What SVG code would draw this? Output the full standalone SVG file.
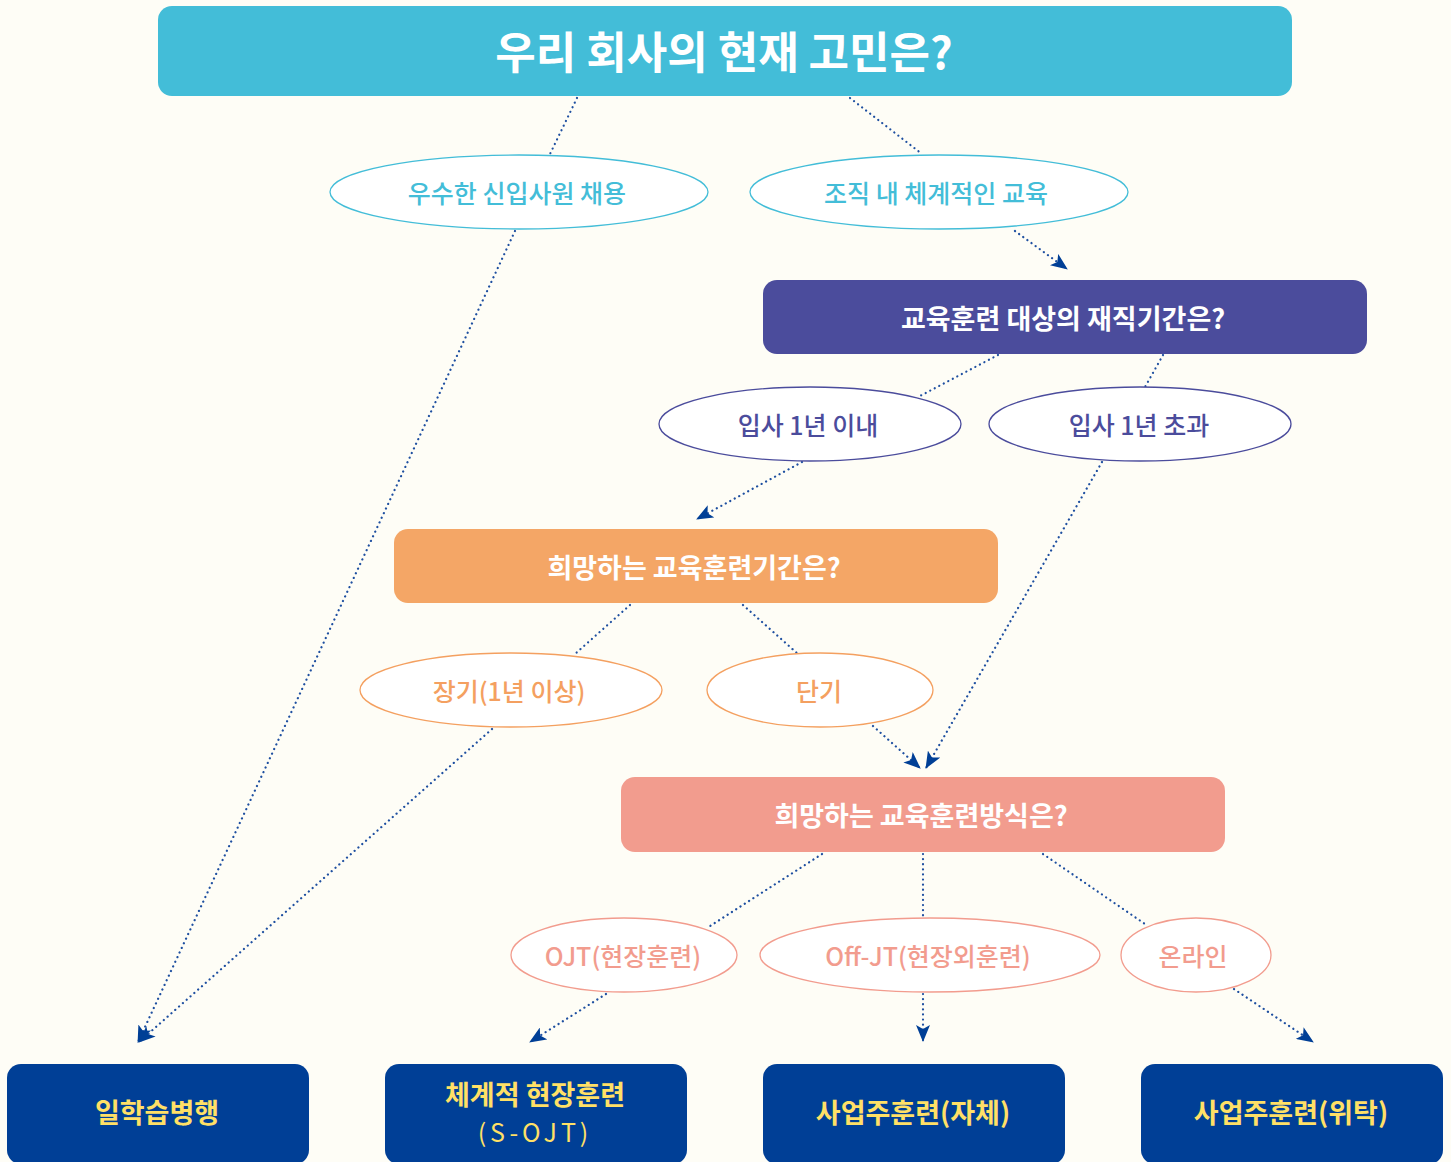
<svg xmlns="http://www.w3.org/2000/svg" width="1451" height="1162" viewBox="0 0 1451 1162">
<style>
.t{font-family:"Noto Sans CJK KR","Noto Sans",sans-serif;text-anchor:middle;dominant-baseline:central}
.bt{font-weight:700;fill:#fff}
.yt{font-weight:700;fill:#FFE066;font-size:27px}
.et{font-weight:500;font-size:25px}
.el{fill:#fff;stroke-width:1.3}
.c{fill:none;stroke:#1E4FA0;stroke-width:2.2;stroke-linecap:round;stroke-dasharray:0.1 5}
.ca{marker-end:url(#ah)}
</style>
<defs>
<marker id="ah" markerUnits="userSpaceOnUse" markerWidth="18" markerHeight="14" refX="16" refY="7" orient="auto" viewBox="0 0 18 14">
<path d="M0,0 L17,7 L0,14 L4,7 Z" fill="#003F96"/>
</marker>
</defs>
<rect width="1451" height="1162" fill="#FEFDF6"/>
<g id="connectors">
<line class="c" x1="577" y1="98" x2="550" y2="154"/>
<line class="c" x1="850" y1="98" x2="922" y2="154"/>
<line class="c ca" x1="515" y1="231" x2="138" y2="1042"/>
<line class="c ca" x1="1015" y1="231" x2="1067" y2="269"/>
<line class="c" x1="998" y1="355" x2="918" y2="397"/>
<line class="c" x1="1163" y1="355" x2="1145" y2="387"/>
<line class="c ca" x1="802" y1="462" x2="697" y2="519"/>
<line class="c ca" x1="1102" y1="462" x2="926" y2="768"/>
<line class="c" x1="630" y1="605" x2="575" y2="654"/>
<line class="c" x1="743" y1="605" x2="798" y2="654"/>
<line class="c ca" x1="492" y1="729" x2="139" y2="1042"/>
<line class="c ca" x1="873" y1="726" x2="920" y2="768"/>
<line class="c" x1="822" y1="854" x2="707" y2="928"/>
<line class="c" x1="923" y1="854" x2="923" y2="917"/>
<line class="c" x1="1043" y1="854" x2="1145" y2="924"/>
<line class="c ca" x1="606" y1="994" x2="530" y2="1042"/>
<line class="c ca" x1="923" y1="994" x2="923" y2="1041"/>
<line class="c ca" x1="1234" y1="989" x2="1313" y2="1042"/>
</g>
<g id="q1">
<rect x="158" y="6" width="1134" height="90" rx="14" fill="#43BDD8"/>
<text class="t bt" x="724" y="50" font-size="44">우리 회사의 현재 고민은?</text>
</g>
<g id="o1">
<ellipse class="el" cx="519" cy="192" rx="189" ry="37" stroke="#43BDD8"/>
<text class="t et" x="517" y="192" fill="#43BDD8">우수한 신입사원 채용</text>
</g>
<g id="o2">
<ellipse class="el" cx="939" cy="192" rx="189" ry="37" stroke="#43BDD8"/>
<text class="t et" x="936" y="192" fill="#43BDD8">조직 내 체계적인 교육</text>
</g>
<g id="q2">
<rect x="763" y="280" width="604" height="74" rx="14" fill="#4B4C9C"/>
<text class="t bt" x="1063" y="317" font-size="27">교육훈련 대상의 재직기간은?</text>
</g>
<g id="o3">
<ellipse class="el" cx="810" cy="424" rx="151" ry="37" stroke="#4B4C9C"/>
<text class="t et" x="808" y="424" fill="#4B4C9C" font-size="26">입사 1년 이내</text>
</g>
<g id="o4">
<ellipse class="el" cx="1140" cy="424" rx="151" ry="37" stroke="#4B4C9C"/>
<text class="t et" x="1139" y="424" fill="#4B4C9C" font-size="26">입사 1년 초과</text>
</g>
<g id="q3">
<rect x="394" y="529" width="604" height="74" rx="14" fill="#F4A666"/>
<text class="t bt" x="694" y="566" font-size="27">희망하는 교육훈련기간은?</text>
</g>
<g id="o5">
<ellipse class="el" cx="511" cy="690" rx="151" ry="37" stroke="#F4A060"/>
<text class="t et" x="509" y="690" fill="#F4A060">장기(1년 이상)</text>
</g>
<g id="o6">
<ellipse class="el" cx="820" cy="690" rx="113" ry="37" stroke="#F4A060"/>
<text class="t et" x="819" y="690" fill="#F4A060">단기</text>
</g>
<g id="q4">
<rect x="621" y="777" width="604" height="75" rx="14" fill="#F29C8E"/>
<text class="t bt" x="921" y="814" font-size="27">희망하는 교육훈련방식은?</text>
</g>
<g id="o7">
<ellipse class="el" cx="624" cy="955" rx="113" ry="37" stroke="#F29C8E"/>
<text class="t et" x="623" y="955" fill="#F29C8E">OJT(현장훈련)</text>
</g>
<g id="o8">
<ellipse class="el" cx="930" cy="955" rx="170" ry="37" stroke="#F29C8E"/>
<text class="t et" x="928" y="955" fill="#F29C8E">Off-JT(현장외훈련)</text>
</g>
<g id="o9">
<ellipse class="el" cx="1196" cy="955" rx="75" ry="37" stroke="#F29C8E"/>
<text class="t et" x="1193" y="955" fill="#F29C8E">온라인</text>
</g>
<g id="r1">
<rect x="7" y="1064" width="302" height="100" rx="14" fill="#003F96"/>
<text class="t yt" x="157" y="1111">일학습병행</text>
</g>
<g id="r2">
<rect x="385" y="1064" width="302" height="100" rx="14" fill="#003F96"/>
<text class="t yt" x="535" y="1093" font-size="26">체계적 현장훈련</text>
<text class="t" x="535" y="1131" font-size="25" fill="#FFE066" letter-spacing="4">(S-OJT)</text>
</g>
<g id="r3">
<rect x="763" y="1064" width="302" height="100" rx="14" fill="#003F96"/>
<text class="t yt" x="913" y="1111">사업주훈련(자체)</text>
</g>
<g id="r4">
<rect x="1141" y="1064" width="302" height="100" rx="14" fill="#003F96"/>
<text class="t yt" x="1291" y="1111">사업주훈련(위탁)</text>
</g>
</svg>
